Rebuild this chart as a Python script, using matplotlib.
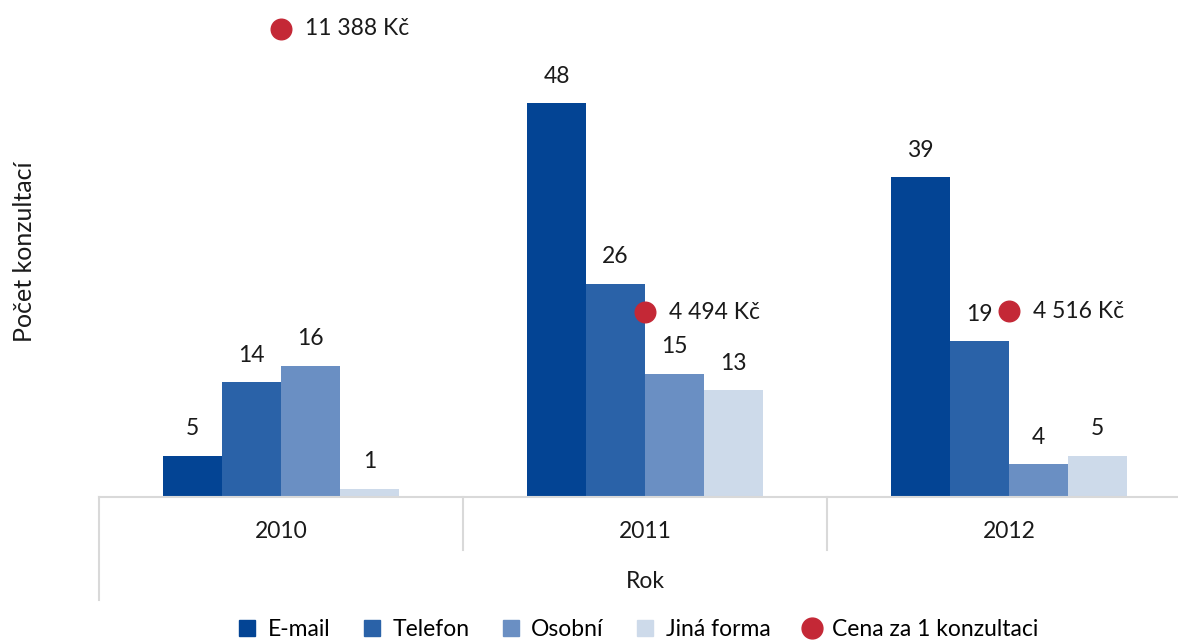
import matplotlib.pyplot as plt
import matplotlib.transforms as mtransforms
from matplotlib.lines import Line2D
import numpy as np

plt.rcParams['font.family'] = ['Lato', 'DejaVu Sans']

years = ['2010', '2011', '2012']
series_names = ['E-mail', 'Telefon', 'Osobní', 'Jiná forma']
email = [5, 48, 39]
telefon = [14, 26, 19]
osobni = [16, 15, 4]
jina = [1, 13, 5]
price = [11388, 4494, 4516]
price_labels = ['11 388 Kč', '4 494 Kč', '4 516 Kč']
colors = ['#034494', '#2a62a8', '#6a8fc3', '#cddaea']
red = '#c42836'
txt = '#1a1a1a'
fs = 16.5

W, H = 1178, 642
fig = plt.figure(figsize=(W / 100, H / 100), dpi=100)
left_px, bottom_px, top_px = 99, 497, 0
ax = fig.add_axes([left_px / W, (H - bottom_px) / H, (W - left_px) / W, (bottom_px - top_px) / H])
ax2 = ax.twinx()

x = np.arange(len(years))
bw = 0.162
values = [email, telefon, osobni, jina]
for i, (vals, c) in enumerate(zip(values, colors)):
    pos = x + (i - 1.5) * bw
    ax.bar(pos, vals, bw, color=c, zorder=2)
    for p, v in zip(pos, vals):
        ax.annotate(str(v), (p, v), xytext=(0, 12), textcoords='offset points',
                    ha='center', va='bottom', fontsize=fs, color=txt)

ax2.scatter(x, price, s=220, color=red, zorder=3)
for xi, pv, lab in zip(x, price, price_labels):
    ax2.annotate(lab, (xi, pv), xytext=(17, 0), textcoords='offset points',
                 ha='left', va='center', fontsize=fs, color=txt)

ax.set_xlim(-0.5, -0.5 + (W - left_px) / 364)
ax.set_ylim(0, bottom_px / 8.2)
ax2.set_ylim(0, bottom_px / 0.0411)
for a in (ax, ax2):
    a.set_xticks([])
    a.set_yticks([])
    for s in a.spines.values():
        s.set_visible(False)

# category axis drawn like the original
trans = mtransforms.blended_transform_factory(ax.transData, ax.transAxes)
gray = '#d9d9d9'
ax.plot([-0.5, 3], [0, 0], color=gray, lw=1.5, transform=trans, clip_on=False)
ax.plot([-0.5, -0.5], [0, -103 / bottom_px], color=gray, lw=1.5, transform=trans, clip_on=False)
for b in [0.5, 1.5]:
    ax.plot([b, b], [0, -53 / bottom_px], color=gray, lw=1.5, transform=trans, clip_on=False)
for xi, y in zip(x, years):
    ax.text(xi, -35 / bottom_px, y, transform=trans, ha='center', va='center', fontsize=fs, color=txt)
ax.text(1, -85 / bottom_px, 'Rok', transform=trans, ha='center', va='center', fontsize=fs, color=txt)

fig.text(25 / W, 1 - 252 / H, 'Počet konzultací', rotation=90, ha='center', va='center',
         fontsize=18, color=txt)

handles = [Line2D([], [], marker='s', ls='', color=c, markersize=11) for c in colors]
handles.append(Line2D([], [], marker='o', ls='', color=red, markersize=15))
fig.legend(handles, series_names + ['Cena za 1 konzultaci'], loc='center',
           bbox_to_anchor=(637 / W, 1 - 630 / H), ncol=5, frameon=False, fontsize=fs,
           handletextpad=0.4, columnspacing=1.3, handlelength=1.0)

fig.savefig('out.png', dpi=100)
